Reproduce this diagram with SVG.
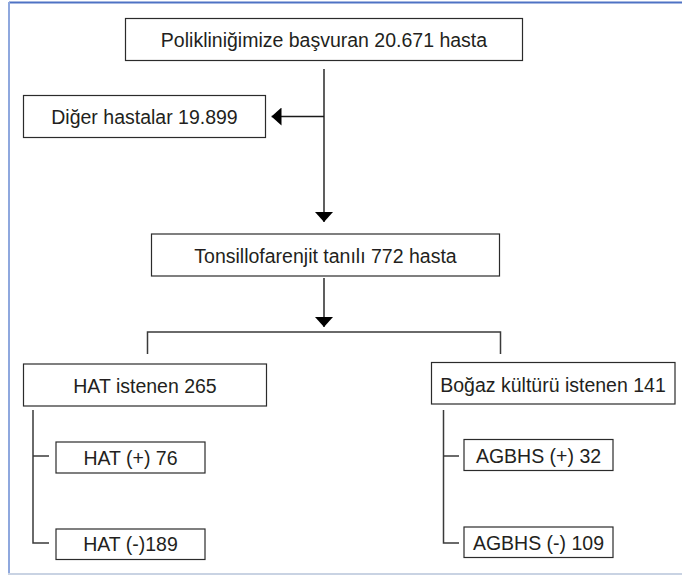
<svg xmlns="http://www.w3.org/2000/svg" width="682" height="575" viewBox="0 0 682 575">
<style>
.box{fill:#ffffff;stroke:#2b2b2b;stroke-width:1.2}
.lbl{font-family:"Liberation Sans",Arial,sans-serif;font-size:19.5px;fill:#231f20;text-anchor:middle}
.con{fill:none;stroke:#1a1a1a;stroke-width:1.4}
.tree{fill:none;stroke:#3a3a3a;stroke-width:1.5}
</style>
<defs>
<marker id="arr" viewBox="0 0 10 18" refX="10" refY="9" markerWidth="10" markerHeight="18" orient="auto" markerUnits="userSpaceOnUse">
<path d="M0,0 L10,9 L0,18 z" fill="#000000"/>
</marker>
</defs>
<rect x="0" y="0" width="682" height="575" fill="#ffffff"/>
<g id="frame">
<line x1="9" y1="2.5" x2="682" y2="2.5" stroke="#4f72c4" stroke-width="2"/>
<line x1="9" y1="2" x2="9" y2="574" stroke="#8fa8de" stroke-width="2"/>
<line x1="8" y1="574" x2="682" y2="574" stroke="#c9d3e3" stroke-width="2"/>
</g>
<g id="connectors">
<line class="con" x1="324" y1="69" x2="324" y2="222" marker-end="url(#arr)"/>
<line class="con" x1="324" y1="116.5" x2="271.5" y2="116.5" marker-end="url(#arr)"/>
<line class="con" x1="324" y1="278" x2="324" y2="327" marker-end="url(#arr)"/>
<polyline class="tree" points="147.5,354 147.5,332 500.5,332 500.5,354"/>
<polyline class="tree" points="33,410 33,543 49,543"/>
<line class="tree" x1="33" y1="456" x2="49" y2="456"/>
<polyline class="tree" points="443.5,410 443.5,543 459,543"/>
<line class="tree" x1="443.5" y1="456" x2="459" y2="456"/>
</g>
<g id="n1"><rect class="box" x="125.5" y="18.5" width="397" height="42"/><text class="lbl" x="324" y="47">Polikliniğimize başvuran 20.671 hasta</text></g>
<g id="n2"><rect class="box" x="23.5" y="95.5" width="242" height="42"/><text class="lbl" x="144.5" y="123.5">Diğer hastalar 19.899</text></g>
<g id="n3"><rect class="box" x="151.5" y="234" width="348" height="42"/><text class="lbl" x="325.5" y="263">Tonsillofarenjit tanılı 772 hasta</text></g>
<g id="n4"><rect class="box" x="23.5" y="364" width="243" height="42"/><text class="lbl" x="145" y="393">HAT istenen 265</text></g>
<g id="n5"><rect class="box" x="431.5" y="362.5" width="243.5" height="41.5"/><text class="lbl" x="553" y="391.5">Boğaz kültürü istenen 141</text></g>
<g id="n6"><rect class="box" x="56" y="442" width="149" height="31"/><text class="lbl" x="130.5" y="464.5">HAT (+) 76</text></g>
<g id="n7"><rect class="box" x="56" y="529" width="149" height="30.5"/><text class="lbl" x="130.5" y="551">HAT (-)189</text></g>
<g id="n8"><rect class="box" x="464" y="439.5" width="149" height="31"/><text class="lbl" x="538.5" y="462.5">AGBHS (+) 32</text></g>
<g id="n9"><rect class="box" x="464" y="527" width="149" height="30.5"/><text class="lbl" x="538.5" y="549.5">AGBHS (-) 109</text></g>
</svg>
